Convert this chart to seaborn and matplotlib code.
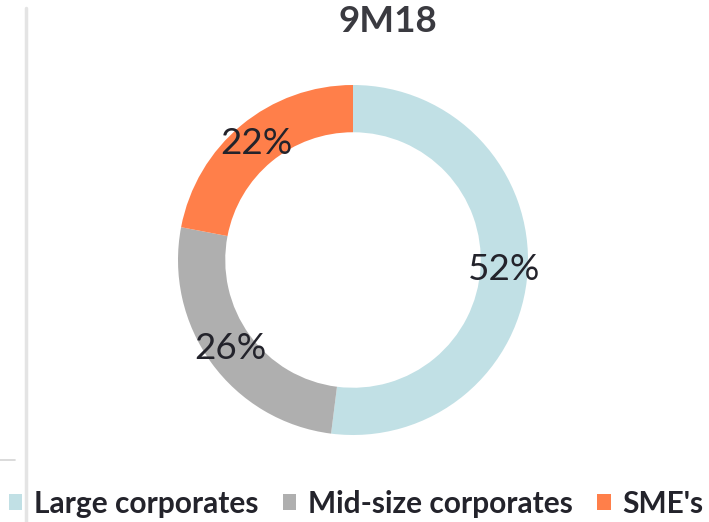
import matplotlib
matplotlib.use("Agg")
import matplotlib.pyplot as plt
from matplotlib.lines import Line2D
from matplotlib.patches import Patch
import seaborn as sns

title = "9M18"
categories = ["Large corporates", "Mid-size corporates", "SME's"]
values = [52, 26, 22]
labels = ["52%", "26%", "22%"]
colors = ["#C1E0E5", "#AFAFAF", "#FF7F4A"]

sns.set_theme(style="white")
plt.rcParams['font.family'] = ['Lato', 'DejaVu Sans']

W, H = 709, 522
fig = plt.figure(figsize=(W / 100, H / 100), dpi=100)
fig.patch.set_facecolor("white")

cx, cy, r = 353, 260, 175
ax = fig.add_axes([(cx - r) / W, (H - cy - r) / H, 2 * r / W, 2 * r / H])
wedges, texts = ax.pie(values, labels=labels, colors=colors, startangle=90,
                       counterclock=False, radius=1.0, labeldistance=0.865,
                       wedgeprops=dict(width=0.27, edgecolor="none"),
                       textprops=dict(fontsize=26.5, color="#23232b"))
for t in texts:
    t.set_ha("center")
    t.set_va("center")
ax.set_xlim(-1, 1)
ax.set_ylim(-1, 1)
ax.set_aspect("equal", adjustable="box")
ax.axis("off")

fig.text(388 / W, 1 - 22 / H, title, ha="center", va="center",
         fontsize=26.5, fontweight="bold", color="#3a3a40")

# decorative lines
fig.add_artist(Line2D([26 / W, 26 / W], [0, 1 - 8 / H], color="#e4e4e4", lw=2.5,
                      transform=fig.transFigure))
fig.add_artist(Line2D([0, 15 / W], [1 - 460 / H, 1 - 460 / H], color="#d4d4d4", lw=1.2,
                      transform=fig.transFigure))

handles = [Patch(facecolor=c, edgecolor="none") for c in colors]
leg = fig.legend(handles, categories, loc="center", bbox_to_anchor=(356 / W, 1 - 504 / H),
                 ncol=3, frameon=False, handlelength=0.45, handleheight=0.45,
                 handletextpad=0.38, columnspacing=0.83, borderpad=0,
                 prop=dict(family=['Lato', 'DejaVu Sans'], weight="bold", size=21.5))
for t in leg.get_texts():
    t.set_color("#23232b")

fig.savefig("out.png", dpi=100)
